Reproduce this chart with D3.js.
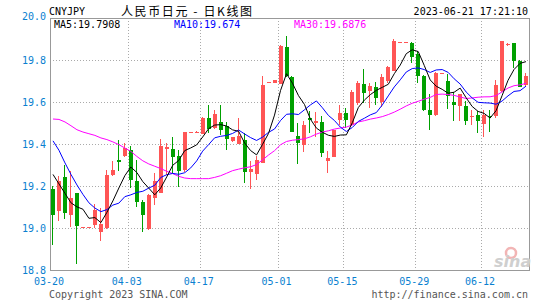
<!DOCTYPE html>
<html>
<head>
<meta charset="utf-8">
<script src="https://cdn.jsdelivr.net/npm/d3@7"></script>
<style>
  body { margin: 0; background: #fff; }
  text { white-space: pre; }
</style>
</head>
<body>
<div id="chart"></div>
<script>
// 日K数据
const opens = [19.187, 19.079, 19.244, 19.060, 19.167, 19.006, 19.006, 19.016, 18.981, 19.000,
  19.251, 19.322, 19.341, 19.373, 19.222, 19.122, 18.995, 19.143, 19.167, 19.375,
  19.376, 19.344, 19.275, 19.452, 19.455, 19.449, 19.524, 19.476, 19.505, 19.484,
  19.413, 19.402, 19.421, 19.267, 19.257, 19.310, 19.697, 19.692, 19.686, 19.862,
  19.717, 19.440, 19.394, 19.524, 19.500, 19.506, 19.317, 19.337, 19.516, 19.548,
  19.492, 19.595, 19.686, 19.651, 19.673, 19.600, 19.698, 19.749, 19.887, 19.887,
  19.881, 19.829, 19.722, 19.563, 19.540, 19.738, 19.702, 19.600, 19.579, 19.583,
  19.527, 19.540, 19.495, 19.532, 19.532, 19.654, 19.870, 19.880, 19.797, 19.681];
const highs = [19.200, 19.248, 19.302, 19.270, 19.167, 19.006, 19.006, 19.114, 19.095, 19.275,
  19.317, 19.421, 19.403, 19.390, 19.324, 19.135, 19.162, 19.262, 19.424, 19.405,
  19.435, 19.371, 19.457, 19.457, 19.460, 19.530, 19.584, 19.560, 19.584, 19.505,
  19.435, 19.524, 19.452, 19.317, 19.341, 19.722, 19.697, 19.705, 19.873, 19.915,
  19.725, 19.500, 19.511, 19.556, 19.552, 19.532, 19.365, 19.468, 19.584, 19.571,
  19.656, 19.698, 19.759, 19.690, 19.694, 19.733, 19.770, 19.902, 19.887, 19.887,
  19.884, 19.844, 19.730, 19.640, 19.743, 19.738, 19.733, 19.646, 19.640, 19.606,
  19.563, 19.556, 19.563, 19.563, 19.706, 19.892, 19.880, 19.880, 19.800, 19.740];
const lows = [18.917, 19.032, 19.044, 19.006, 18.829, 19.006, 19.006, 19.000, 18.937, 18.995,
  19.248, 19.270, 19.338, 19.190, 19.098, 18.981, 18.990, 19.108, 19.165, 19.254,
  19.262, 19.194, 19.265, 19.452, 19.455, 19.449, 19.451, 19.470, 19.444, 19.370,
  19.410, 19.400, 19.214, 19.186, 19.230, 19.308, 19.697, 19.690, 19.686, 19.720,
  19.456, 19.305, 19.360, 19.452, 19.433, 19.337, 19.262, 19.337, 19.492, 19.476,
  19.485, 19.584, 19.595, 19.571, 19.584, 19.575, 19.690, 19.749, 19.887, 19.887,
  19.786, 19.690, 19.556, 19.468, 19.532, 19.738, 19.568, 19.508, 19.508, 19.492,
  19.492, 19.452, 19.432, 19.457, 19.524, 19.650, 19.868, 19.760, 19.670, 19.673];
const closes = [19.063, 19.222, 19.070, 19.141, 19.008, 19.006, 19.006, 19.087, 19.021, 19.252,
  19.278, 19.314, 19.381, 19.227, 19.122, 19.060, 19.159, 19.222, 19.392, 19.384,
  19.337, 19.273, 19.457, 19.455, 19.458, 19.524, 19.471, 19.543, 19.465, 19.425,
  19.432, 19.437, 19.267, 19.283, 19.322, 19.683, 19.697, 19.703, 19.868, 19.722,
  19.456, 19.403, 19.492, 19.516, 19.511, 19.357, 19.332, 19.465, 19.548, 19.516,
  19.648, 19.692, 19.641, 19.678, 19.619, 19.719, 19.765, 19.892, 19.887, 19.887,
  19.813, 19.722, 19.563, 19.540, 19.738, 19.738, 19.630, 19.587, 19.638, 19.508,
  19.532, 19.511, 19.540, 19.527, 19.683, 19.889, 19.878, 19.797, 19.673, 19.724];

// 均线开头几点 (图上读取, 之前的数据不在图内)
const ma5Head = [19.255, 19.210, 19.165, 19.120];
const ma10Head = [19.415, 19.370, 19.310, 19.255, 19.205, 19.160, 19.120, 19.095, 19.078];
const ma30Head = [19.519, 19.517, 19.505, 19.487, 19.468, 19.457, 19.449, 19.441, 19.429, 19.421,
  19.410, 19.397, 19.381, 19.365, 19.341, 19.320, 19.305, 19.294, 19.283, 19.270,
  19.259, 19.246, 19.238, 19.235, 19.235, 19.235, 19.235, 19.241, 19.249];

const tickIdx = [0, 13, 25, 38, 49, 61, 72];
const tickLabels = ['03-20', '04-03', '04-17', '05-01', '05-15', '05-29', '06-12'];
const yTicks = [18.8, 19.0, 19.2, 19.4, 19.6, 19.8, 20.0];
const legendLabels = ['MA5:19.7908', 'MA10:19.674', 'MA30:19.6876'];

const W = 545, H = 300;
const plotL = 50, plotR = 529, plotT = 18, plotB = 270;
const mono = '"DejaVu Sans Mono", monospace';
const cjk = '"Noto Sans CJK SC", sans-serif';
const upColor = '#ff5555', downColor = '#00a000';
const maColors = ['#000000', '#0000ff', '#ff00ff'];

const svg = d3.select('#chart').append('svg')
    .attr('width', W)
    .attr('height', H)
    .style('display', 'block');

const x = d3.scaleBand()
    .domain(d3.range(closes.length))
    .range([plotL, plotR]);
const bw = x.bandwidth();
const cx = i => x(i) + bw / 2;

const y = d3.scaleLinear()
    .domain([18.8, 20.0])
    .range([plotB, plotT]);

// 网格
svg.append('g')
    .selectAll('line')
    .data(yTicks.filter(v => v > 18.8 && v < 20))
    .enter().append('line')
    .attr('x1', plotL).attr('x2', plotR)
    .attr('y1', d => Math.round(y(d)) + 0.5)
    .attr('y2', d => Math.round(y(d)) + 0.5)
    .attr('stroke', '#aaa')
    .attr('stroke-dasharray', '1,2');

svg.append('g')
    .selectAll('line')
    .data(tickIdx.filter(i => i > 0))
    .enter().append('line')
    .attr('x1', d => Math.round(x(d)) + 0.5)
    .attr('x2', d => Math.round(x(d)) + 0.5)
    .attr('y1', plotT).attr('y2', plotB)
    .attr('stroke', '#aaa')
    .attr('stroke-dasharray', '1,2');

// 移动平均
function movingAvg(n, head) {
    return closes.map((c, i) => i < head.length ? head[i] : d3.mean(closes.slice(i - n + 1, i + 1)));
}
const maSeries = [movingAvg(5, ma5Head), movingAvg(10, ma10Head), movingAvg(30, ma30Head)];

// K线
const candles = svg.append('g').selectAll('g')
    .data(closes.map((c, i) => ({ i, o: opens[i], h: highs[i], l: lows[i], c })))
    .enter().append('g')
    .attr('shape-rendering', 'crispEdges');

candles.append('line')
    .attr('x1', d => Math.round(cx(d.i)) - 0.5)
    .attr('x2', d => Math.round(cx(d.i)) - 0.5)
    .attr('y1', d => y(d.h))
    .attr('y2', d => y(d.l))
    .attr('stroke', d => d.c >= d.o ? upColor : downColor);

candles.append('rect')
    .attr('x', d => Math.round(cx(d.i)) - 2)
    .attr('y', d => y(Math.max(d.o, d.c)))
    .attr('width', 4)
    .attr('height', d => Math.max(1, Math.abs(y(d.o) - y(d.c))))
    .attr('fill', d => d.c >= d.o ? upColor : downColor);

const line = d3.line().x((d, i) => cx(i)).y(d => y(d));
svg.append('g')
    .selectAll('path')
    .data(maSeries.slice().reverse())
    .enter().append('path')
    .attr('d', d => line(d))
    .attr('fill', 'none')
    .attr('stroke', (d, k) => maColors[2 - k])
    .attr('stroke-width', 1);

// 边框
svg.append('rect')
    .attr('x', plotL + 0.5).attr('y', plotT + 0.5)
    .attr('width', plotR - plotL).attr('height', plotB - plotT)
    .attr('fill', 'none')
    .attr('stroke', '#999')
    .attr('shape-rendering', 'crispEdges');

// 坐标标签
svg.append('g')
    .selectAll('text')
    .data(yTicks)
    .enter().append('text')
    .attr('x', 46)
    .attr('y', d => y(d) + (d === 20 ? 2 : 3.5))
    .attr('text-anchor', 'end')
    .attr('font-family', mono)
    .attr('font-size', '10px')
    .attr('fill', '#0a7fd0')
    .text(d => d.toFixed(1));

svg.append('g')
    .selectAll('text')
    .data(tickIdx)
    .enter().append('text')
    .attr('x', d => x(d) - 1)
    .attr('y', 285)
    .attr('text-anchor', 'middle')
    .attr('font-family', mono)
    .attr('font-size', '10px')
    .attr('fill', '#0a7fd0')
    .text((d, k) => tickLabels[k]);

// 标题
svg.append('text')
    .attr('x', 49).attr('y', 15)
    .attr('font-family', mono).attr('font-size', '10px')
    .attr('fill', '#000')
    .text('CNYJPY');
svg.append('text')
    .attr('x', 121).attr('y', 16)
    .attr('font-family', cjk).attr('font-size', '12px')
    .attr('fill', '#000')
    .attr('textLength', 131)
    .attr('lengthAdjust', 'spacing')
    .text('人民币日元 - 日K线图');
svg.append('text')
    .attr('x', 528).attr('y', 15)
    .attr('text-anchor', 'end')
    .attr('font-family', mono).attr('font-size', '10px')
    .attr('fill', '#000')
    .text('2023-06-21 17:21:10');

// 图例
const legendX = [54, 174, 294];
svg.append('g')
    .selectAll('text')
    .data(legendLabels)
    .enter().append('text')
    .attr('x', (d, k) => legendX[k])
    .attr('y', 28)
    .attr('font-family', mono).attr('font-size', '10px')
    .attr('fill', (d, k) => maColors[k])
    .text(d => d);

// 版权
svg.append('text')
    .attr('x', 49).attr('y', 298)
    .attr('font-family', mono).attr('font-size', '10px')
    .attr('fill', '#555')
    .text('Copyright 2023 SINA.COM');
svg.append('text')
    .attr('x', 528).attr('y', 298)
    .attr('text-anchor', 'end')
    .attr('font-family', mono).attr('font-size', '10px')
    .attr('fill', '#555')
    .text('http://finance.sina.com.cn');

// sina 水印
svg.append('circle')
    .attr('cx', 511).attr('cy', 253).attr('r', 5)
    .attr('fill', 'none').attr('stroke', '#f2b5b5').attr('stroke-width', 2.5);
svg.append('text')
    .attr('x', 494).attr('y', 267)
    .attr('font-family', '"DejaVu Sans", sans-serif')
    .attr('font-size', '16px').attr('font-style', 'italic').attr('font-weight', 'bold')
    .attr('fill', '#cfcfcf')
    .text('sina');
</script>
</body>
</html>
